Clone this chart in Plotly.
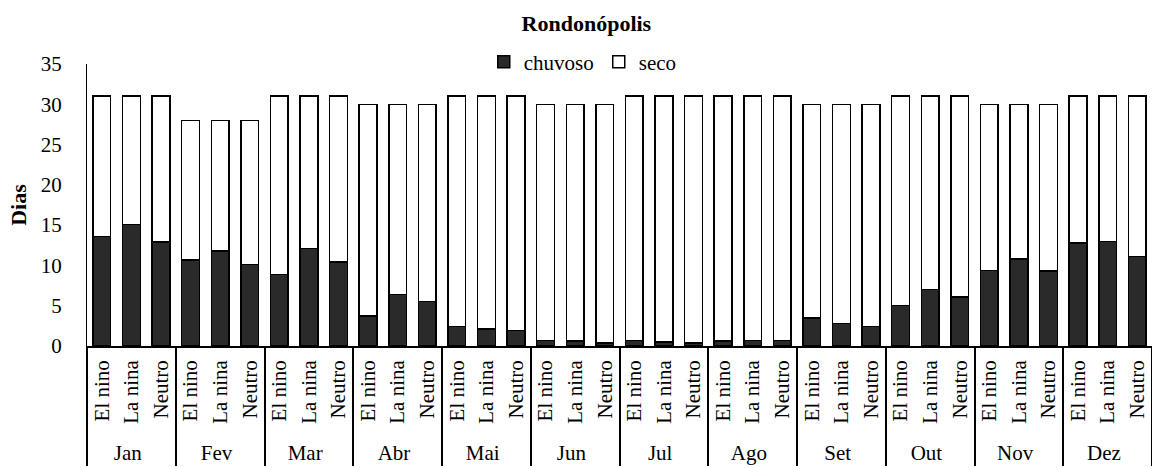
import plotly.graph_objects as go

months = ["Jan", "Fev", "Mar", "Abr", "Mai", "Jun", "Jul", "Ago", "Set", "Out", "Nov", "Dez"]
phases = ["El nino", "La nina", "Neutro"]
days_in_month = [31, 28, 31, 30, 31, 30, 31, 31, 30, 31, 30, 31]

chuvoso = [
    13.6, 15.1, 12.9,   # Jan
    10.7, 11.8, 10.1,   # Fev
    8.9, 12.1, 10.4,    # Mar
    3.7, 6.4, 5.5,      # Abr
    2.4, 2.1, 1.9,      # Mai
    0.7, 0.6, 0.4,      # Jun
    0.7, 0.5, 0.4,      # Jul
    0.6, 0.7, 0.7,      # Ago
    3.5, 2.8, 2.4,      # Set
    5.0, 7.0, 6.1,      # Out
    9.4, 10.8, 9.3,     # Nov
    12.8, 13.0, 11.1,   # Dez
]

x_month = [m for m in months for _ in phases]
x_phase = [p for _ in months for p in phases]
totals = [d for d in days_in_month for _ in phases]
seco = [round(t - c, 2) for t, c in zip(totals, chuvoso)]

FONT = "Liberation Serif"
FS = 21

fig = go.Figure()
fig.add_trace(go.Bar(
    x=[x_month, x_phase], y=chuvoso, name="chuvoso",
    marker=dict(color="#2a2a2a", line=dict(color="black", width=1.5)),
))
fig.add_trace(go.Bar(
    x=[x_month, x_phase], y=seco, name="seco",
    marker=dict(color="white", line=dict(color="black", width=1.5)),
))

fig.update_layout(
    barmode="stack",
    bargap=0.4,
    width=1152, height=468,
    margin=dict(l=87, r=0, t=64, b=122, autoexpand=False),
    paper_bgcolor="white", plot_bgcolor="white",
    font=dict(family=FONT, size=FS, color="black"),
    title=dict(text="<b>Rondonópolis</b>", x=0.509, xanchor="center", xref="container",
               y=0.951, yanchor="middle", yref="container",
               font=dict(family=FONT, size=22, color="black")),
    legend=dict(orientation="h", x=0.4655, xanchor="center", y=1.007, yanchor="middle",
                font=dict(family=FONT, size=FS, color="black"), traceorder="normal",
                itemwidth=30, bgcolor="rgba(0,0,0,0)"),
    showlegend=True,
)
fig.update_xaxes(
    type="multicategory", tickangle=-90, automargin=False,
    showline=True, linecolor="black", linewidth=1.5,
    showdividers=True, dividercolor="black", dividerwidth=1.5,
    ticks="", ticklabelstandoff=4,
    tickfont=dict(family=FONT, size=FS, color="black"),
    showgrid=False,
)
fig.update_yaxes(
    range=[0, 35], dtick=5, showgrid=False, zeroline=False, automargin=False,
    showline=True, linecolor="black", linewidth=1,
    ticks="", ticklabelstandoff=20,
    tickfont=dict(family=FONT, size=FS, color="black"),
    title=dict(text="<b>Dias</b>", font=dict(family=FONT, size=22, color="black"), standoff=8),
)

fig.write_html(
    "out.html",
    config={"displayModeBar": False},
    post_script="document.body.style.margin='0';document.body.style.overflow='hidden';",
)
